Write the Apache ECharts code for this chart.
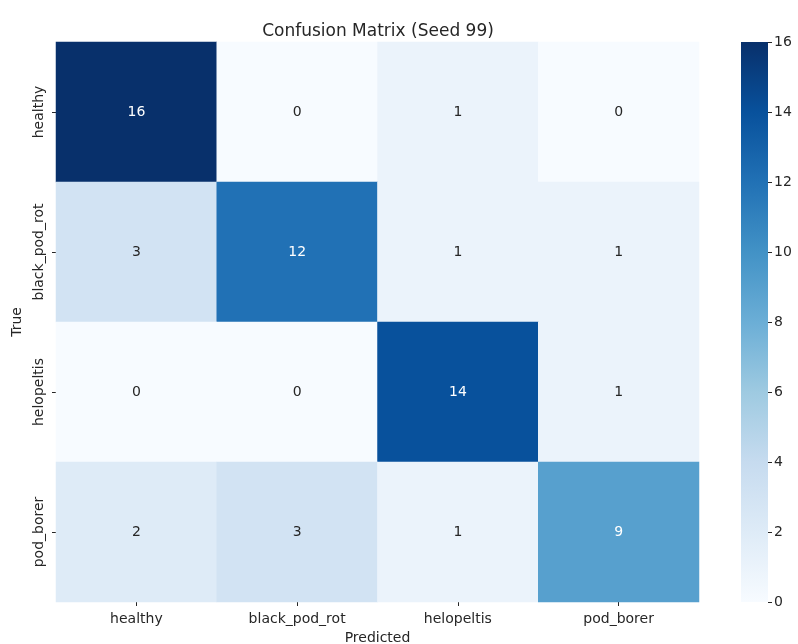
<!DOCTYPE html>
<html>
<head>
<meta charset="utf-8">
<script src="https://cdn.jsdelivr.net/npm/echarts@6/dist/echarts.min.js"></script>
<style>
  html, body { margin: 0; padding: 0; background: #ffffff; }
  #chart { width: 798px; height: 644px; }
</style>
</head>
<body>
<div id="chart"></div>
<script>
// Class labels (rows = true class, columns = predicted class)
const classes = ['healthy', 'black_pod_rot', 'helopeltis', 'pod_borer'];

// Confusion counts, one array per true class
const rowHealthy = [16, 0, 1, 0];
const rowBlackPodRot = [3, 12, 1, 1];
const rowHelopeltis = [0, 0, 14, 1];
const rowPodBorer = [2, 3, 1, 9];

// Colour bar range and ticks
const scaleMin = 0;
const scaleMax = 16;
const scaleStep = 2;

// Matplotlib "Blues" colour stops, light to dark
const blues = ['#f7fbff', '#deebf7', '#c6dbef', '#9ecae1', '#6baed6',
               '#4292c6', '#2171b5', '#08519c', '#08306b'];

const rows = [rowHealthy, rowBlackPodRot, rowHelopeltis, rowPodBorer];
const FONT = 'DejaVu Sans';

const cells = [];
rows.forEach((row, r) => {
  row.forEach((v, c) => {
    cells.push({
      value: [c, r, v],
      label: { color: v >= 8 ? '#ffffff' : '#262626' }
    });
  });
});

const chart = echarts.init(document.getElementById('chart'), null, { renderer: 'canvas' });

chart.setOption({
  animation: false,
  backgroundColor: '#ffffff',
  title: {
    text: 'Confusion Matrix (Seed 99)',
    left: 373,
    textAlign: 'center',
    top: 18,
    textStyle: { fontFamily: FONT, fontSize: 17, fontWeight: 'normal', color: '#262626' }
  },
  grid: [
    { left: 56, top: 42, width: 643, height: 560, outerBoundsMode: 'none', containLabel: false },
    { left: 741, top: 42, width: 27, height: 560, outerBoundsMode: 'none', containLabel: false }
  ],
  xAxis: [
    {
      gridIndex: 0,
      type: 'category',
      data: classes,
      position: 'bottom',
      name: 'Predicted',
      nameLocation: 'middle',
      nameGap: 29,
      nameTextStyle: { fontFamily: FONT, fontSize: 14, color: '#262626' },
      axisLine: { show: false },
      axisTick: { show: true, alignWithLabel: true, length: 4, lineStyle: { color: '#262626' } },
      axisLabel: { fontFamily: FONT, fontSize: 14, color: '#262626', margin: 10 },
      splitLine: { show: false }
    },
    {
      gridIndex: 1,
      type: 'category',
      data: [''],
      show: false
    }
  ],
  yAxis: [
    {
      gridIndex: 0,
      type: 'category',
      data: classes,
      inverse: true,
      name: 'True',
      nameLocation: 'middle',
      nameGap: 30,
      nameRotate: 90,
      nameTextStyle: { fontFamily: FONT, fontSize: 14, color: '#262626' },
      axisLine: { show: false },
      axisTick: { show: true, alignWithLabel: true, length: 4, lineStyle: { color: '#262626' } },
      axisLabel: { fontFamily: FONT, fontSize: 14, color: '#262626', rotate: 90, margin: 10 },
      splitLine: { show: false }
    },
    {
      gridIndex: 1,
      type: 'value',
      position: 'right',
      min: scaleMin,
      max: scaleMax,
      interval: scaleStep,
      axisLine: { show: false },
      axisTick: { show: true, length: 4, lineStyle: { color: '#262626' } },
      axisLabel: { fontFamily: FONT, fontSize: 14, color: '#262626', margin: 6 },
      splitLine: { show: false }
    }
  ],
  visualMap: {
    show: false,
    type: 'continuous',
    min: scaleMin,
    max: scaleMax,
    dimension: 2,
    seriesIndex: 0,
    inRange: { color: blues }
  },
  series: [
    {
      type: 'heatmap',
      xAxisIndex: 0,
      yAxisIndex: 0,
      data: cells,
      label: {
        show: true,
        fontFamily: FONT,
        fontSize: 14,
        formatter: p => String(p.value[2])
      },
      itemStyle: { borderWidth: 0 },
      emphasis: { disabled: true }
    },
    {
      // colour bar drawn as a single full-height bar with the Blues gradient
      type: 'bar',
      xAxisIndex: 1,
      yAxisIndex: 1,
      data: [scaleMax],
      barWidth: '100%',
      silent: true,
      itemStyle: {
        color: new echarts.graphic.LinearGradient(0, 0, 0, 1,
          blues.slice().reverse().map((c, i) => ({ offset: i / (blues.length - 1), color: c })))
      }
    }
  ]
});
</script>
</body>
</html>
